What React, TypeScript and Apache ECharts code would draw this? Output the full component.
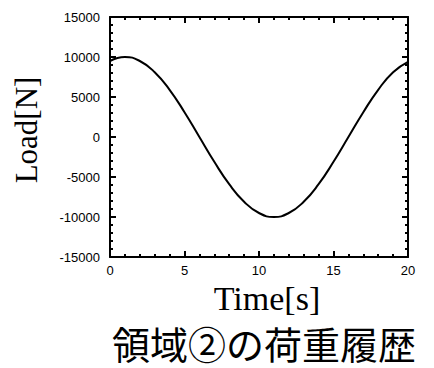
import React, { useEffect, useRef } from "react";
import * as echarts from "echarts";

const timeS = [0, 1, 2, 3, 4, 5, 6, 7, 8, 9, 10, 11, 12, 13, 14, 15, 16, 17, 18, 19, 20];
const loadN = [9500, 10000, 9500, 8100, 5900, 3100, 0, -3100, -5900, -8100, -9500, -10000, -9500, -8100, -5900, -3100, 0, 3100, 5900, 8100, 9400];
const xTicks = { min: 0, max: 20, interval: 5 };
const yTicks = { min: -15000, max: 15000, interval: 5000 };
const titleText = "領域②の荷重履歴";
const xName = "Time[s]";
const yName = "Load[N]";

export default function App() {
  const ref = useRef<HTMLDivElement>(null);
  useEffect(() => {
    if (!ref.current) return;
    const chart = echarts.init(ref.current, undefined, { renderer: "svg" });
    const lineStyle = { color: "#000", width: 2 };
    const baseAxis = (labels: boolean, margin: number) => ({
      type: "value" as const,
      axisLine: { show: true, onZero: false, lineStyle },
      axisTick: { show: true, inside: true, length: 6, lineStyle: { color: "#000", width: 2 } },
      minorTick: { show: true, splitNumber: 5, length: 3, lineStyle: { color: "#000", width: 2 } },
      splitLine: { show: false },
      minorSplitLine: { show: false },
      axisLabel: {
        show: labels,
        color: "#000",
        fontSize: 13,
        fontFamily: "Liberation Sans",
        margin,
        formatter: (v: number) => String(v),
      },
    });
    chart.setOption({
      animation: false,
      backgroundColor: "#fff",
      grid: { left: 110, right: 26, top: 17, bottom: 111 },
      xAxis: [
        { ...baseAxis(true, 7), ...xTicks, position: "bottom" },
        { ...baseAxis(false, 7), ...xTicks, position: "top" },
      ],
      yAxis: [
        { ...baseAxis(true, 10), ...yTicks, position: "left" },
        { ...baseAxis(false, 10), ...yTicks, position: "right" },
      ],
      series: [
        {
          type: "line",
          xAxisIndex: 0,
          yAxisIndex: 0,
          data: timeS.map((t, i) => [t, loadN[i]]),
          smooth: true,
          showSymbol: false,
          lineStyle: { color: "#000", width: 2 },
        },
      ],
      graphic: [
        {
          type: "text",
          x: 267,
          y: 298,
          style: {
            text: xName,
            fontSize: 34,
            fontFamily: "Liberation Serif",
            lineHeight: 32,
            fill: "#000",
            align: "center",
            verticalAlign: "middle",
          },
        },
        {
          type: "text",
          x: 26,
          y: 130,
          rotation: Math.PI / 2,
          style: {
            text: yName,
            font: '31px "Liberation Serif"',
            fill: "#000",
            align: "center",
            verticalAlign: "middle",
          },
        },
        {
          type: "text",
          x: 264,
          y: 342,
          style: {
            text: titleText,
            fontSize: 38,
            fontFamily: "Noto Sans CJK JP",
            lineHeight: 38,
            fill: "#000",
            align: "center",
            verticalAlign: "middle",
          },
        },
      ],
    });
    return () => chart.dispose();
  }, []);
  return <div ref={ref} style={{ width: 434, height: 368, position: "absolute", left: 0, top: 0 }} />;
}
